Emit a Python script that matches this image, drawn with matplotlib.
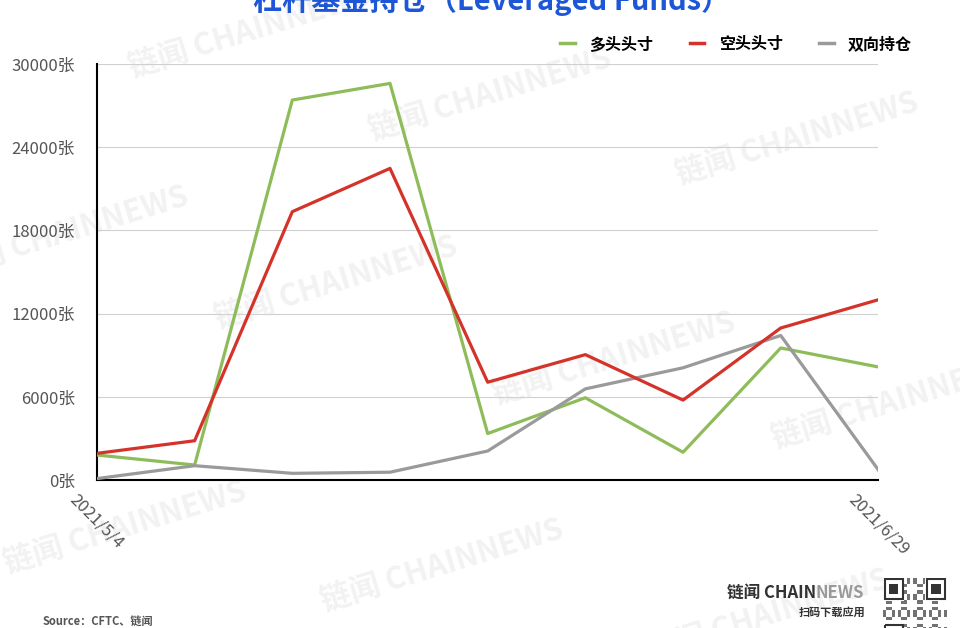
import numpy as np
import matplotlib
matplotlib.use('Agg')
import matplotlib.pyplot as plt
from matplotlib.patches import Rectangle

plt.rcParams['font.family'] = ['Noto Sans CJK SC', 'DejaVu Sans']

# weekly CFTC reports, only first and last dates labelled
dates = ['2021/5/4', '2021/5/11', '2021/5/18', '2021/5/25', '2021/6/1',
         '2021/6/8', '2021/6/15', '2021/6/22', '2021/6/29']
long_pos = [1800, 1080, 27400, 28600, 3350, 5930, 2000, 9520, 8150]     # 多头头寸
short_pos = [1920, 2830, 19350, 22470, 7050, 9040, 5760, 10960, 13000]  # 空头头寸
spread_pos = [100, 1030, 480, 560, 2090, 6570, 8090, 10420, 720]        # 双向持仓
yticks = [0, 6000, 12000, 18000, 24000, 30000]

fig = plt.figure(figsize=(9.6, 6.28), dpi=100)
ax = fig.add_axes([0.101, 0.2357, 0.814, 0.6624])

# faint watermarks behind everything
for (wx, wy) in [(0.26, 0.95), (0.51, 0.85), (0.83, 0.78), (0.07, 0.63), (0.35, 0.55),
                 (0.64, 0.43), (0.93, 0.36), (0.13, 0.16), (0.46, 0.1), (0.8, 0.02)]:
    fig.text(wx, wy, '链闻 CHAINNEWS', fontsize=22, fontweight='bold', color='#f2f2f2',
             rotation=17, ha='center', va='center', zorder=-5)

x = np.arange(len(dates))
ax.plot(x, long_pos, color='#8fbc5a', lw=2.3, label='多头头寸', zorder=3)
ax.plot(x, short_pos, color='#d4332a', lw=2.3, label='空头头寸', zorder=4)
ax.plot(x, spread_pos, color='#9a9a9a', lw=2.3, label='双向持仓', zorder=3)

ax.set_xlim(0, len(dates) - 1)
ax.set_ylim(0, 30000)
ax.set_yticks(yticks)
ax.set_yticklabels([f'{v}张' for v in yticks], fontsize=12, color='#555555')
ax.yaxis.grid(True, color='#d0d0d0', lw=0.8)
ax.set_axisbelow(True)
ax.tick_params(axis='y', length=0, pad=16)

ax.set_xticks([0, len(dates) - 1])
ax.set_xticklabels([dates[0], dates[-1]], rotation=-45, ha='center', va='top',
                   fontsize=12, color='#555555')
ax.tick_params(axis='x', length=0, pad=8)

for s in ['top', 'right']:
    ax.spines[s].set_visible(False)
for s in ['left', 'bottom']:
    ax.spines[s].set_color('black')
    ax.spines[s].set_linewidth(1.5)
ax.patch.set_alpha(0)

leg = fig.legend(loc='center right', bbox_to_anchor=(0.965, 0.93), ncol=3, frameon=False,
                 handlelength=0.9, handletextpad=0.9, columnspacing=2.3,
                 prop={'size': 11.5, 'weight': 'bold'})
for line in leg.get_lines():
    line.set_linewidth(2.5)

fig.text(0.512, 1.0, '杠杆基金持仓（Leveraged Funds）', fontsize=21, fontweight='bold',
         color='#1d57d8', ha='center', va='center')

fig.text(0.044, 0.01, 'Source：CFTC、链闻', fontsize=8, fontweight='bold', color='#555555',
         ha='left', va='center')

# brand block bottom right
fig.canvas.draw()
r = fig.canvas.get_renderer()
t1 = fig.text(0.757, 0.056, '链闻 CHAIN', fontsize=12, fontweight='bold', color='#333333',
              ha='left', va='center')
bb = t1.get_window_extent(renderer=r)
fig.text(bb.x1 / fig.bbox.width, 0.056, 'NEWS', fontsize=12, fontweight='bold',
         color='#9a9a9a', ha='left', va='center')
fig.text(0.901, 0.025, '扫码下载应用', fontsize=8, fontweight='bold', color='#333333',
         ha='right', va='center')

# QR-like badge
qax = fig.add_axes([0.92, -0.03, 0.066, 0.11])
n = 21
ii, jj = np.meshgrid(np.arange(n), np.arange(n))
pattern = ((ii * 7 + jj * 11 + ii * jj) % 5 < 2).astype(float)
qax.imshow(pattern, cmap='Greys', vmin=0, vmax=1.6, interpolation='nearest',
           extent=(0, n, n, 0), aspect='auto')
for fx, fy in [(0, 0), (n - 7, 0), (0, n - 7)]:
    qax.add_patch(Rectangle((fx, fy), 7, 7, facecolor='white', edgecolor='none'))
    qax.add_patch(Rectangle((fx + 0.5, fy + 0.5), 6, 6, facecolor='none', edgecolor='#333333', lw=1.5))
    qax.add_patch(Rectangle((fx + 2, fy + 2), 3, 3, facecolor='#333333', edgecolor='none'))
qax.set_xlim(0, n)
qax.set_ylim(n, 0)
qax.axis('off')

fig.savefig('out.png', dpi=100)
